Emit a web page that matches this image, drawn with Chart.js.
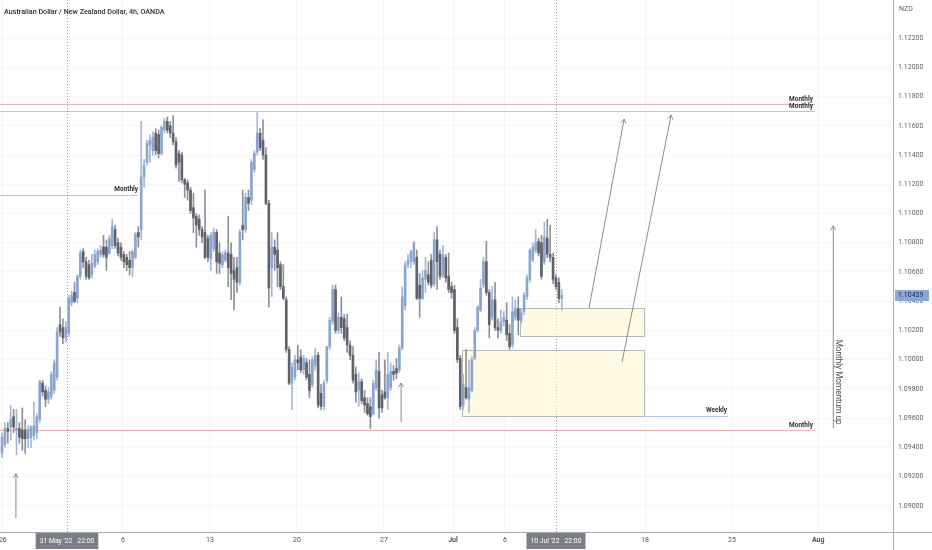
<!DOCTYPE html>
<html><head><meta charset="utf-8">
<script src="https://cdn.jsdelivr.net/npm/chart.js@4.4.0/dist/chart.umd.min.js"></script>
<style>html,body{margin:0;padding:0;background:#fff;}#wrap{width:932px;height:550px;position:relative;}</style>
</head><body><div id="wrap"><canvas id="c" width="932" height="550"></canvas></div>
<script>
// ---- data (4h AUDNZD candles, one per slot) ----
const opens = [
1.0936,1.0942,1.0953,1.0954,1.0961,1.0952,1.0953,1.0952,1.0952,1.0946,
1.0947,1.0948,1.0950,1.0959,1.0984,1.0979,1.0973,1.0975,1.0979,1.0988,
1.1024,1.1022,1.1015,1.1018,1.1039,1.1046,1.1042,1.1057,1.1074,1.1067,
1.1065,1.1058,1.1064,1.1067,1.1072,1.1077,1.1077,1.1073,1.1078,1.1089,
1.1080,1.1077,1.1072,1.1070,1.1068,1.1063,1.1070,1.1087,1.1089,1.1125,
1.1135,1.1147,1.1143,1.1155,1.1154,1.1141,1.1157,1.1163,1.1160,1.1155,
1.1149,1.1141,1.1140,1.1123,1.1121,1.1116,1.1104,1.1098,1.1096,1.1089,
1.1087,1.1083,1.1069,1.1076,1.1087,1.1073,1.1065,1.1068,1.1073,1.1072,
1.1061,1.1063,1.1053,1.1092,1.1089,1.1111,1.1109,1.1130,1.1142,1.1155,
1.1150,1.1140,1.1107,1.1063,1.1077,1.1075,1.1065,1.1050,1.1041,1.1007,
1.0984,1.0988,1.1000,1.1002,1.0993,1.0998,1.0990,1.0983,1.0996,1.1003,
1.0977,1.0968,1.0986,1.1009,1.1026,1.1048,1.1020,1.1029,1.1028,1.1022,
1.1010,1.1003,1.0990,1.0979,1.0985,1.0974,1.0970,1.0968,1.0963,1.0981,
1.0992,1.0976,1.0978,1.0974,1.0981,1.0992,1.0994,1.0993,1.1008,1.1037,
1.1065,1.1067,1.1067,1.1070,1.1051,1.1042,1.1055,1.1058,1.1068,1.1052,
1.1082,1.1072,1.1058,1.1070,1.1057,1.1050,1.1048,1.1022,1.1001,1.0969,
1.0981,1.0973,1.0979,1.1001,1.1020,1.1034,1.1051,1.1067,1.1046,1.1029,
1.1041,1.1022,1.1020,1.1026,1.1027,1.1018,1.1010,1.1029,1.1035,1.1027,
1.1033,1.1043,1.1055,1.1068,1.1075,1.1081,1.1080,1.1067,1.1083,1.1072,
1.1070,1.1056,1.1053,1.1042];
const highs = [
1.0950,1.0957,1.0957,1.0969,1.0966,1.0966,1.0957,1.0967,1.0959,1.0955,
1.0955,1.0971,1.0963,1.0986,1.0986,1.0982,1.0981,1.0992,1.1000,1.1022,
1.1036,1.1028,1.1026,1.1044,1.1047,1.1053,1.1058,1.1075,1.1076,1.1070,
1.1068,1.1072,1.1075,1.1076,1.1078,1.1085,1.1082,1.1085,1.1096,1.1092,
1.1083,1.1080,1.1074,1.1072,1.1074,1.1075,1.1087,1.1091,1.1163,1.1137,
1.1150,1.1154,1.1156,1.1158,1.1157,1.1160,1.1165,1.1166,1.1163,1.1167,
1.1152,1.1143,1.1142,1.1124,1.1123,1.1118,1.1114,1.1100,1.1099,1.1091,
1.1116,1.1085,1.1087,1.1090,1.1089,1.1080,1.1074,1.1075,1.1098,1.1080,
1.1070,1.1070,1.1089,1.1116,1.1114,1.1116,1.1137,1.1143,1.1169,1.1158,
1.1164,1.1145,1.1109,1.1087,1.1082,1.1087,1.1067,1.1065,1.1043,1.1009,
1.0998,1.1003,1.1010,1.1007,1.1003,1.1001,1.1000,1.1002,1.1008,1.1005,
1.0983,1.0986,1.1009,1.1029,1.1051,1.1051,1.1032,1.1043,1.1031,1.1031,
1.1013,1.1009,1.0995,1.0991,1.0987,1.0979,1.0974,1.0974,1.0986,1.1000,
1.1005,1.0979,1.1000,1.1005,1.0998,1.0996,1.1001,1.1010,1.1050,1.1067,
1.1072,1.1075,1.1081,1.1075,1.1059,1.1061,1.1070,1.1067,1.1072,1.1087,
1.1091,1.1075,1.1078,1.1072,1.1073,1.1053,1.1051,1.1028,1.1003,1.0990,
1.1007,1.1000,1.1002,1.1022,1.1037,1.1055,1.1070,1.1081,1.1048,1.1050,
1.1053,1.1028,1.1034,1.1033,1.1039,1.1024,1.1043,1.1041,1.1043,1.1035,
1.1046,1.1058,1.1076,1.1080,1.1089,1.1083,1.1085,1.1094,1.1096,1.1092,
1.1073,1.1058,1.1056,1.1048];
const lows = [
1.0933,1.0940,1.0943,1.0945,1.0950,1.0935,1.0943,1.0938,1.0936,1.0940,
1.0940,1.0945,1.0946,1.0957,1.0975,1.0968,1.0970,1.0973,1.0977,1.0986,
1.1016,1.1011,1.1012,1.1016,1.1037,1.1039,1.1039,1.1055,1.1063,1.1055,
1.1055,1.1056,1.1063,1.1065,1.1070,1.1070,1.1061,1.1072,1.1076,1.1076,
1.1071,1.1068,1.1063,1.1061,1.1058,1.1057,1.1069,1.1077,1.1082,1.1118,
1.1133,1.1135,1.1140,1.1140,1.1138,1.1140,1.1155,1.1155,1.1152,1.1147,
1.1131,1.1122,1.1121,1.1111,1.1109,1.1100,1.1087,1.1077,1.1085,1.1080,
1.1069,1.1067,1.1061,1.1074,1.1059,1.1059,1.1063,1.1067,1.1050,1.1041,
1.1034,1.1046,1.1051,1.1082,1.1087,1.1102,1.1106,1.1128,1.1140,1.1143,
1.1137,1.1106,1.1036,1.1043,1.1061,1.1050,1.1048,1.1041,1.1005,1.0983,
1.0966,1.0986,1.0993,1.0991,1.0990,1.0986,1.0974,1.0981,1.0993,1.0967,
1.0966,1.0966,1.0984,1.1007,1.1024,1.1018,1.1018,1.1018,1.1013,1.1005,
1.1000,1.0984,1.0971,1.0968,1.0970,1.0964,1.0962,1.0953,1.0962,1.0979,
1.0960,1.0964,1.0973,1.0966,1.0979,1.0986,1.0987,1.0991,1.1007,1.1034,
1.1063,1.1063,1.1065,1.1041,1.1029,1.1041,1.1046,1.1051,1.1049,1.1050,
1.1048,1.1055,1.1056,1.1053,1.1046,1.1042,1.1018,1.0998,1.0966,1.0966,
1.0973,1.0964,1.0978,1.1000,1.1019,1.1033,1.1049,1.1044,1.1015,1.1027,
1.1020,1.1015,1.1018,1.1023,1.1013,1.1007,1.1008,1.1027,1.1017,1.1025,
1.1031,1.1041,1.1053,1.1067,1.1073,1.1071,1.1055,1.1065,1.1070,1.1067,
1.1052,1.1048,1.1039,1.1034];
const closes = [
1.0947,1.0953,1.0951,1.0959,1.0954,1.0953,1.0947,1.0946,1.0946,1.0952,
1.0954,1.0955,1.0961,1.0985,1.0978,1.0973,1.0978,1.0990,1.0998,1.1019,
1.1019,1.1015,1.1022,1.1042,1.1044,1.1040,1.1057,1.1073,1.1067,1.1057,
1.1056,1.1066,1.1072,1.1074,1.1075,1.1072,1.1070,1.1083,1.1091,1.1078,
1.1073,1.1070,1.1067,1.1065,1.1063,1.1074,1.1086,1.1084,1.1125,1.1133,
1.1148,1.1150,1.1152,1.1143,1.1141,1.1159,1.1163,1.1157,1.1155,1.1149,
1.1133,1.1135,1.1123,1.1120,1.1116,1.1102,1.1097,1.1092,1.1089,1.1084,
1.1070,1.1070,1.1085,1.1087,1.1067,1.1066,1.1072,1.1073,1.1063,1.1059,
1.1055,1.1053,1.1087,1.1089,1.1111,1.1107,1.1135,1.1141,1.1155,1.1145,
1.1140,1.1107,1.1049,1.1077,1.1072,1.1063,1.1050,1.1042,1.1007,1.0984,
1.0995,1.1000,1.0998,1.0993,1.1001,1.0988,1.0979,1.1000,1.1003,1.0969,
1.0968,1.0984,1.1009,1.1027,1.1048,1.1020,1.1029,1.1022,1.1015,1.1010,
1.1003,1.0986,1.0978,1.0985,1.0972,1.0969,1.0963,1.0961,1.0984,1.0993,
1.0967,1.0967,1.0974,1.0990,1.0992,1.0990,1.0991,1.1008,1.1043,1.1065,
1.1068,1.1074,1.1080,1.1042,1.1042,1.1056,1.1061,1.1053,1.1051,1.1082,
1.1067,1.1057,1.1072,1.1056,1.1048,1.1046,1.1020,1.1000,1.0968,1.0983,
1.0974,1.0981,1.1000,1.1020,1.1036,1.1049,1.1067,1.1046,1.1024,1.1041,
1.1022,1.1020,1.1026,1.1029,1.1017,1.1009,1.1033,1.1035,1.1027,1.1032,
1.1044,1.1056,1.1075,1.1077,1.1080,1.1073,1.1057,1.1084,1.1072,1.1070,
1.1055,1.1050,1.1042,1.10439];

const priceTicks = [1.090,1.092,1.094,1.096,1.098,1.100,1.102,1.104,1.106,1.108,1.110,1.112,1.114,1.116,1.118,1.120,1.122];
const xTickSlots  = [0.3, 41.7, 71.7, 101.7, 131.7, 155.5, 173.4, 221.7, 251.7, 281.4];
const xTickLabels = ['26','6','13','20','27','Jul','6','18','25','Aug'];
const timeMarkSlots  = [22.4, 191.0];
const timeMarkLabels = ["31 May '22   22:00", "10 Jul '22   22:00"];
const lastPrice = 1.10439;
const titleText = 'Australian Dollar / New Zealand Dollar, 4h, OANDA';
const currencyText = 'NZD';

// drawings (slot, price)
const monthlyFull = [1.11749, 1.11703, 1.09520];
const monthlyMid  = 1.11127;
const weeklyLevel = 1.09615;
const zoneX0 = [178.6, 158.6], zoneX1 = [221.4, 221.4];
const zoneTop = [1.10354, 1.10067], zoneBottom = [1.10162, 1.09615];
const arrowX0 = [202.4, 213.8, 4.8, 137.6, 286.6];
const arrowP0 = [1.10354, 1.09985, 1.08917, 1.09574, 1.09533];
const arrowX1 = [214.5, 230.7, 4.8, 137.6, 286.6];
const arrowP1 = [1.11646, 1.11674, 1.09221, 1.09841, 1.10915];
const momentumText = 'Monthly Momentum up';

// ---- styles ----
const BULL = '#8aa5cf', BEAR = '#5f626b', BULL_W = '#a3b7d8', BEAR_W = '#8d9098';
const FONT = 'Roboto, "Liberation Sans", sans-serif';

const idx = opens.map((_, i) => i);
const isBull = idx.map(i => closes[i] >= opens[i]);

const drawings = {
  id: 'drawings',
  beforeDatasetsDraw(chart) {
    const {ctx, chartArea: a, scales: {x, y}} = chart;
    ctx.save();
    ctx.beginPath(); ctx.rect(a.left, a.top, a.right - a.left, a.bottom - a.top); ctx.clip();
    // dotted verticals
    ctx.strokeStyle = '#9598a1'; ctx.lineWidth = 1; ctx.setLineDash([1, 2]);
    timeMarkSlots.forEach(s => {
      const px = Math.round(x.getPixelForValue(s)) + 0.5;
      ctx.beginPath(); ctx.moveTo(px, a.top); ctx.lineTo(px, a.bottom); ctx.stroke();
    });
    ctx.setLineDash([]);
    // zones
    zoneX0.forEach((_, k) => {
      const x0 = Math.round(x.getPixelForValue(zoneX0[k])) + 0.5, x1 = Math.round(x.getPixelForValue(zoneX1[k])) + 0.5;
      const y0 = Math.round(y.getPixelForValue(zoneTop[k])) + 0.5, y1 = Math.round(y.getPixelForValue(zoneBottom[k])) + 0.5;
      ctx.fillStyle = 'rgba(255,246,205,0.55)';
      ctx.fillRect(x0, y0, x1 - x0, y1 - y0);
      ctx.strokeStyle = '#b8b8b8'; ctx.strokeRect(x0, y0, x1 - x0, y1 - y0);
    });
    // horizontal levels
    const hline = (p, s0, s1, col) => {
      const py = Math.round(y.getPixelForValue(p)) + 0.5;
      ctx.strokeStyle = col; ctx.beginPath();
      ctx.moveTo(x.getPixelForValue(s0), py); ctx.lineTo(x.getPixelForValue(s1), py); ctx.stroke();
    };
    monthlyFull.forEach(p => hline(p, -1, 280.3, 'rgba(232,110,120,0.55)'));
    hline(monthlyMid, -1, 46.9, 'rgba(232,110,120,0.55)');
    hline(weeklyLevel, 221.4, 250.3, '#b7c2ee');
    ctx.restore();
  },
  afterDatasetsDraw(chart) {
    const {ctx, chartArea: a, scales: {x, y}} = chart;
    ctx.save();
    // arrows
    ctx.strokeStyle = '#8c8c8c'; ctx.lineWidth = 1;
    arrowX0.forEach((_, k) => {
      const x0 = x.getPixelForValue(arrowX0[k]), y0 = y.getPixelForValue(arrowP0[k]);
      const x1 = x.getPixelForValue(arrowX1[k]), y1 = y.getPixelForValue(arrowP1[k]);
      const ang = Math.atan2(y1 - y0, x1 - x0), L = 5, w = 0.55;
      ctx.beginPath(); ctx.moveTo(x0, y0); ctx.lineTo(x1, y1); ctx.stroke();
      ctx.beginPath();
      ctx.moveTo(x1 - L * Math.cos(ang - w), y1 - L * Math.sin(ang - w));
      ctx.lineTo(x1, y1);
      ctx.lineTo(x1 - L * Math.cos(ang + w), y1 - L * Math.sin(ang + w));
      ctx.stroke();
    });
    // level labels
    ctx.fillStyle = '#2f3036'; ctx.font = 'bold 6.5px ' + FONT;
    ctx.textAlign = 'right'; ctx.textBaseline = 'bottom';
    monthlyFull.forEach(p => ctx.fillText('Monthly', x.getPixelForValue(279.6), y.getPixelForValue(p) - 1.5));
    ctx.fillText('Monthly', x.getPixelForValue(46.9), y.getPixelForValue(monthlyMid) - 2);
    ctx.fillText('Weekly', x.getPixelForValue(250.0), y.getPixelForValue(weeklyLevel) - 2);
    // momentum text
    ctx.save();
    ctx.translate(x.getPixelForValue(288.4), y.getPixelForValue(1.09847));
    ctx.rotate(Math.PI / 2);
    ctx.font = '8.2px ' + FONT; ctx.fillStyle = '#4a4c52';
    ctx.textAlign = 'center'; ctx.textBaseline = 'middle';
    ctx.fillText(momentumText, 0, 0);
    ctx.restore();
    ctx.restore();
  },
  afterDraw(chart) {
    const {ctx, chartArea: a, scales: {x, y}} = chart;
    ctx.save();
    // axis borders extension
    ctx.strokeStyle = '#a9acb5'; ctx.lineWidth = 1;
    ctx.beginPath(); ctx.moveTo(a.right + 0.5, a.top); ctx.lineTo(a.right + 0.5, chart.height); ctx.stroke();
    ctx.beginPath(); ctx.moveTo(a.left, a.bottom + 0.5); ctx.lineTo(chart.width, a.bottom + 0.5); ctx.stroke();
    // title & currency
    ctx.fillStyle = '#2b2d33'; ctx.font = '500 7.2px ' + FONT; ctx.textAlign = 'left'; ctx.textBaseline = 'middle';
    ctx.fillText(titleText, 4, 12);
    ctx.fillStyle = '#5d606b'; ctx.font = '7px ' + FONT;
    ctx.fillText(currencyText, a.right + 6, 9);
    // last price label
    const py = y.getPixelForValue(lastPrice);
    ctx.fillStyle = '#88a6d6';
    ctx.fillRect(a.right + 2, py - 5.5, 34, 11);
    ctx.fillStyle = '#1b2a4a'; ctx.font = '7px ' + FONT;
    ctx.fillText(lastPrice.toFixed(5), a.right + 5, py);
    // time marks on x axis
    ctx.font = '6.8px ' + FONT; ctx.textAlign = 'center';
    timeMarkSlots.forEach((s, k) => {
      const px = x.getPixelForValue(s);
      const w = ctx.measureText(timeMarkLabels[k]).width + 8;
      ctx.fillStyle = '#7b7e88';
      ctx.fillRect(px - w / 2, a.bottom + 1, w, 16);
      ctx.fillStyle = '#ffffff';
      ctx.fillText(timeMarkLabels[k], px, a.bottom + 9.5);
    });
    ctx.restore();
  }
};

new Chart(document.getElementById('c'), {
  type: 'bar',
  data: {
    datasets: [
      {
        label: 'body', order: 0, grouped: false,
        data: idx.map(i => ({x: i, y: [Math.min(opens[i], closes[i]), Math.max(opens[i], closes[i])]})),
        backgroundColor: idx.map(i => isBull[i] ? BULL : BEAR),
        barThickness: 2, minBarLength: 1, borderWidth: 0
      },
      {
        label: 'wick', order: 1, grouped: false,
        data: idx.map(i => ({x: i, y: [lows[i], highs[i]]})),
        backgroundColor: idx.map(i => isBull[i] ? BULL_W : BEAR_W),
        barThickness: 1, borderWidth: 0
      }
    ]
  },
  options: {
    responsive: false, animation: false,
    layout: {padding: 0},
    plugins: {legend: {display: false}, tooltip: {enabled: false}},
    scales: {
      x: {
        type: 'linear', min: -0.69, max: 307.2, offset: false,
        grid: {offset: false, color: 'rgba(42,46,57,0.045)', drawTicks: false},
        border: {display: false},
        afterBuildTicks: s => { s.ticks = xTickSlots.map(v => ({value: v})); },
        afterFit: s => { s.height = 18; s.paddingLeft = 0; s.paddingRight = 0; s.paddingTop = 0; s.paddingBottom = 0; },
        ticks: {
          autoSkip: false, maxRotation: 0, padding: 4, color: '#4e5059',
          font: c => ({family: FONT, size: 7, weight: (c.tick && (c.tick.label === 'Jul' || c.tick.label === 'Aug')) ? 'bold' : 'normal'}),
          callback: (v, i) => xTickLabels[i]
        }
      },
      y: {
        position: 'right', min: 1.08822, max: 1.1246,
        grid: {color: 'rgba(42,46,57,0.035)', drawTicks: false},
        border: {display: false},
        afterBuildTicks: s => { s.ticks = priceTicks.map(v => ({value: v})); },
        afterFit: s => { s.width = 39; s.paddingLeft = 0; s.paddingRight = 0; s.paddingTop = 0; s.paddingBottom = 0; },
        ticks: {
          padding: 5, color: '#5d606b', font: {family: FONT, size: 7},
          callback: v => Number(v).toFixed(5)
        }
      }
    }
  },
  plugins: [drawings]
});
</script>
</body></html>
